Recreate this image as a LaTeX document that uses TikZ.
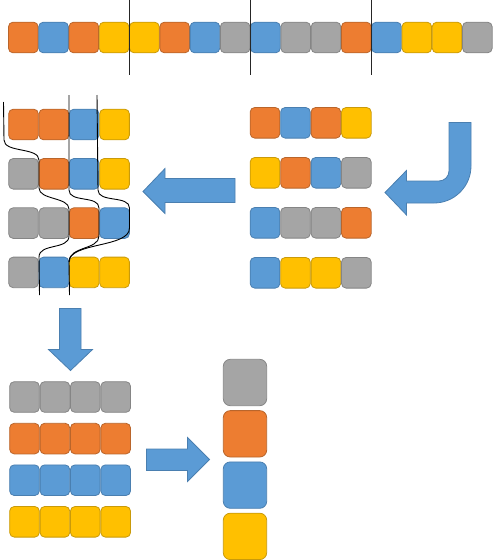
\documentclass[tikz,border=0pt]{standalone}
\usepackage{tikz}

\definecolor{offorange}{HTML}{ED7D31}
\definecolor{offorangeline}{HTML}{B9652B}
\definecolor{offblue}{HTML}{5B9BD5}
\definecolor{offblueline}{HTML}{4A7FB0}
\definecolor{offgray}{HTML}{A5A5A5}
\definecolor{offgrayline}{HTML}{858585}
\definecolor{offyellow}{HTML}{FFC000}
\definecolor{offyellowline}{HTML}{C99A0A}

\tikzset{
    cell/.style={rounded corners=4.5pt, minimum width=29.6pt, minimum height=30.6pt,
        inner sep=0pt, line width=0.8pt, fill=off#1, draw=off#1line},
    bucket/.style={cell=#1, rounded corners=7pt, minimum width=43.4pt, minimum height=46.4pt},
    blockarrow/.style={fill=offblue, draw=offblueline, line width=0.8pt},
    cutline/.style={black, line width=0.9pt},
    divider/.style={black!85, line width=1pt}
}

\begin{document}
\begin{tikzpicture}[x=1pt,y=-1pt]
    \useasboundingbox (0,0) rectangle (493,560);

    \foreach \c [count=\i] in {orange,blue,orange,yellow,yellow,orange,blue,gray,
                               blue,gray,gray,orange,blue,yellow,yellow,gray}
        \node[cell=\c] (top-\i) at ({23.3+30.27*(\i-1)},37.5) {};
    \foreach \k in {4,8,12}
        \draw[divider] ({8.3+30.27*\k},0) -- ({8.3+30.27*\k},75);

    \foreach \row [count=\r] in {{orange,blue,orange,yellow},{yellow,orange,blue,gray},
                                 {blue,gray,gray,orange},{blue,yellow,yellow,gray}}
        \foreach \c [count=\i] in \row
            \node[cell=\c] (chunk-\r-\i) at ({265+30.45*(\i-1)},{122.8+50*(\r-1)}) {};

    \draw[blockarrow] (449,122.5) -- (471,122.5) -- (471,166)
        .. controls (471,186.4) and (454.4,203) .. (434,203)
        -- (406.5,203) -- (406.5,215) -- (385,192.5) -- (406.5,170.5) -- (406.5,181)
        -- (439,181) .. controls (444.5,181) and (449,176.5) .. (449,171) -- cycle;

    \draw[blockarrow] (143,191.5) -- (165,168.5) -- (165,178.5) -- (235,178.5)
        -- (235,202.5) -- (165,202.5) -- (165,213.5) -- cycle;

    \foreach \row [count=\r] in {{orange,orange,blue,yellow},{gray,orange,blue,yellow},
                                 {gray,gray,orange,blue},{gray,blue,yellow,yellow}}
        \foreach \c [count=\i] in \row
            \node[cell=\c] (pass-\r-\i) at ({23.5+30.35*(\i-1)},{124.5+49.3*(\r-1)}) {};

    \draw[cutline] (3.5,102) -- (4,140) .. controls (4,153) and (39,147) .. (39,160)
        -- (39,188) .. controls (39,200) and (69,197) .. (69,209)
        -- (69,236) .. controls (69,250) and (39,243) .. (39,257) -- (39.5,295);
    \draw[cutline] (69,95) -- (69,190) .. controls (69,203) and (99,195) .. (99,208)
        -- (99,236) .. controls (99,250) and (69,246) .. (69,262) -- (69.5,295);
    \draw[cutline] (97,95) -- (98,190) .. controls (98,203) and (129.5,195) .. (129.5,208)
        -- (129.5,228) .. controls (129.5,248) and (69,242) .. (69,262);

    \draw[blockarrow] (59.5,308.5) -- (81,308.5) -- (81,349.5) -- (92.5,349.5)
        -- (70.5,370.5) -- (48.5,349.5) -- (59.5,349.5) -- cycle;

    \foreach \c [count=\r] in {gray,orange,blue,yellow}
        \foreach \i in {1,...,4}
            \node[cell=\c] (sorted-\r-\i) at ({24.5+30.4*(\i-1)},{397+41.6*(\r-1)}) {};

    \draw[blockarrow] (146.5,449) -- (187.5,449) -- (187.5,437.5) -- (209.5,459.5)
        -- (187.5,481.5) -- (187.5,470.5) -- (146.5,470.5) -- cycle;

    \foreach \c [count=\i] in {gray,orange,blue,yellow}
        \node[bucket=\c] (bucket-\i) at (245,{382.5+51.3*(\i-1)}) {};
\end{tikzpicture}
\end{document}
